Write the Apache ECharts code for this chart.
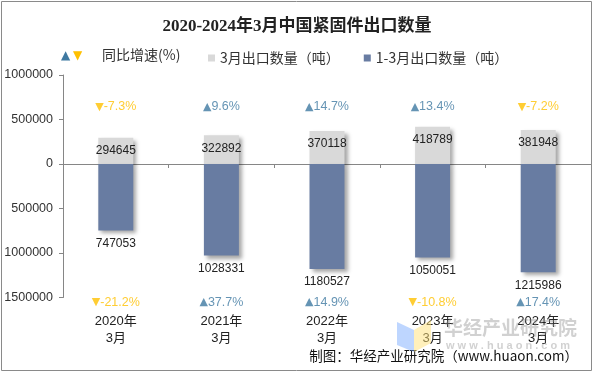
<!DOCTYPE html>
<html>
<head>
<meta charset="utf-8">
<script src="https://cdn.jsdelivr.net/npm/echarts@6/dist/echarts.min.js"></script>
<style>
html,body{margin:0;padding:0;background:#fff;}
#c{width:594px;height:374px;}
</style>
</head>
<body>
<div id="c"></div>
<script>
var categories = ['2020年\n3月', '2021年\n3月', '2022年\n3月', '2023年\n3月', '2024年\n3月'];
var marchQty = [294645, 322892, 370118, 418789, 381948];
var ytdQty = [747053, 1028331, 1180527, 1050051, 1215986];
var marchGrowth = [-7.3, 9.6, 14.7, 13.4, -7.2];
var ytdGrowth = [-21.2, 37.7, 14.9, -10.8, 17.4];
var yTicks = { min: -1500000, max: 1000000, interval: 500000 };

var UP = '#3f79a1', DOWN = '#ffc000';
var GRAY = '#d9d9d9', BLUE = '#687ca2';
var sans = 'Arial, "Liberation Sans", "Noto Sans CJK SC", sans-serif';

function growthText(v) { return '{t|' + (v < 0 ? '▼' : '▲') + '}' + v.toFixed(1) + '%'; }
function growthData(arr, y) {
  return arr.map(function (v) {
    var c = v < 0 ? DOWN : UP;
    return { value: y, label: { color: c, rich: { t: { color: c, fontFamily: '"DejaVu Sans", sans-serif', fontSize: 11 } } } };
  });
}

var chart = echarts.init(document.getElementById('c'));
var shadow = { shadowBlur: 4, shadowOffsetX: 3, shadowOffsetY: 3, shadowColor: 'rgba(0,0,0,0.35)' };

chart.setOption({
  animation: false,
  title: {
    text: '2020-2024年3月中国紧固件出口数量',
    left: 'center', top: 13,
    textStyle: { fontFamily: '"Liberation Serif", "Noto Sans CJK SC", serif', fontWeight: 'bold', fontSize: 17, color: '#222' }
  },
  legend: {
    left: 203, top: 46,
    itemWidth: 7, itemHeight: 7, itemGap: 24,
    icon: 'rect',
    textStyle: { fontSize: 14, color: '#333', fontFamily: '"Noto Sans CJK SC", sans-serif' },
    data: ['3月出口数量（吨）', '1-3月出口数量（吨）']
  },
  grid: { left: 63, right: 3, top: 75, bottom: 76.5 },
  xAxis: [
    {
      type: 'category', data: categories,
      axisLine: { onZero: true, lineStyle: { color: '#868686' } },
      axisTick: { show: true, length: 4, lineStyle: { color: '#868686' } },
      axisLabel: { show: false }
    },
    {
      type: 'category', data: categories, position: 'bottom',
      axisLine: { show: false, onZero: false },
      axisTick: { show: false },
      axisLabel: { margin: 15, fontSize: 13, lineHeight: 17, color: '#222', fontFamily: sans }
    }
  ],
  yAxis: {
    type: 'value', min: yTicks.min, max: yTicks.max, interval: yTicks.interval,
    axisLine: { show: true, lineStyle: { color: '#868686' } },
    axisTick: { show: true, length: 4, lineStyle: { color: '#868686' } },
    splitLine: { show: false },
    axisLabel: {
      margin: 10, fontSize: 12.5, color: '#333', fontFamily: sans,
      formatter: function (v) { return String(Math.abs(v)); }
    }
  },
  series: [
    {
      name: '3月出口数量（吨）', type: 'bar', barWidth: 35, barGap: '-100%',
      data: marchQty,
      itemStyle: Object.assign({ color: GRAY }, shadow),
      label: { show: true, position: 'insideTop', distance: 7, fontSize: 12, color: '#222', fontFamily: sans }
    },
    {
      name: '1-3月出口数量（吨）', type: 'bar', barWidth: 35, barGap: '-100%',
      data: ytdQty.map(function (v) { return -v; }),
      itemStyle: Object.assign({ color: BLUE }, shadow),
      label: {
        show: true, position: 'bottom', distance: 7, fontSize: 12, color: '#222', fontFamily: sans,
        formatter: function (p) { return String(Math.abs(p.value)); }
      }
    },
    {
      type: 'scatter', symbolSize: 1, itemStyle: { color: 'rgba(0,0,0,0)' }, silent: true, clip: false,
      data: growthData(marchGrowth, 640000),
      label: {
        show: true, position: 'inside', fontSize: 12.5, fontFamily: sans,
        formatter: function (p) { return growthText(marchGrowth[p.dataIndex]); }
      }
    },
    {
      type: 'scatter', symbolSize: 1, itemStyle: { color: 'rgba(0,0,0,0)' }, silent: true, clip: false,
      data: growthData(ytdGrowth, -1500000),
      label: {
        show: true, position: 'inside', offset: [0, 5], fontSize: 12.5, fontFamily: sans,
        formatter: function (p) { return growthText(ytdGrowth[p.dataIndex]); }
      }
    }
  ],
  graphic: [
    { type: 'rect', shape: { x: 1.5, y: 1.5, width: 590, height: 369 }, style: { fill: 'none', stroke: '#8a8a8a', lineWidth: 1 }, z: 100 },
    { type: 'text', left: 61, top: 50, style: { text: '▲', fill: UP, font: '12px "DejaVu Sans", sans-serif' } },
    { type: 'text', left: 73, top: 50, style: { text: '▼', fill: DOWN, font: '12px "DejaVu Sans", sans-serif' } },
    { type: 'text', left: 102, top: 48, style: { text: '同比增速(%)', fill: '#333', font: '14px "Noto Sans CJK SC", sans-serif' } },
    { type: 'text', right: 16, top: 349, style: { text: '制图：华经产业研究院（www.huaon.com）', fill: '#111', font: '13.5px "Noto Sans CJK SC", Arial, sans-serif' } },
    { type: 'polygon', shape: { points: [[397, 322], [414, 330], [414, 352], [397, 345]] }, style: { fill: 'rgba(110,165,255,0.45)' }, z: 50 },
    { type: 'polygon', shape: { points: [[414, 330], [431, 320], [431, 343], [414, 352]] }, style: { fill: 'rgba(255,225,120,0.5)' }, z: 50 },
    { type: 'text', left: 444, top: 318, style: { text: '华经产业研究院', fill: 'rgba(140,140,140,0.4)', font: 'bold 19px "Noto Sans CJK SC", sans-serif' }, z: 50 },
    { type: 'text', left: 446, top: 340, style: { text: 'w w w . h u a o n . c o m', fill: 'rgba(140,140,140,0.4)', font: 'bold 11px Arial, sans-serif' }, z: 50 }
  ]
});
</script>
</body>
</html>
